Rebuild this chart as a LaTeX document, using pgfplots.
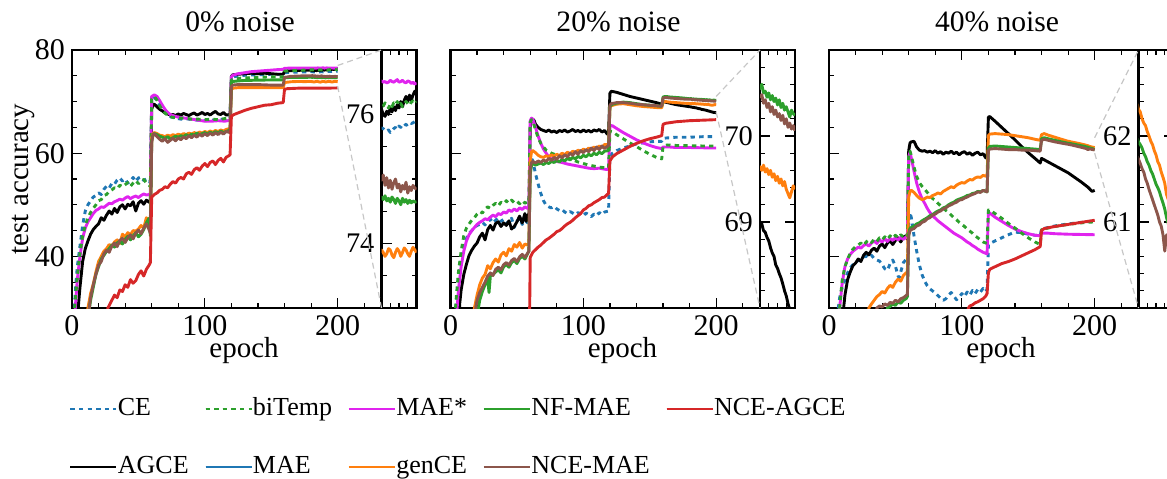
\documentclass[border=0pt]{standalone}
\usepackage{fontspec}
\setmainfont{Liberation Serif}
\usepackage{pgfplots}
\usepackage{pgfplotstable}
\pgfplotsset{compat=1.18}

\definecolor{cBlue}{HTML}{1F77B4}
\definecolor{cGreen}{HTML}{2CA02C}
\definecolor{cMag}{HTML}{E024EE}
\definecolor{cRed}{HTML}{D62728}
\definecolor{cOrange}{HTML}{FF7F0E}
\definecolor{cBrown}{HTML}{8C564B}

\tikzset{
 sCE/.style={color=cBlue, line width=1.45pt, dash pattern=on 2.2pt off 2.1pt},
 sBT/.style={color=cGreen, line width=1.45pt, dash pattern=on 2.2pt off 2.1pt},
 sMS/.style={color=cMag, line width=1.45pt},
 sNF/.style={color=cGreen, line width=1.45pt},
 sNA/.style={color=cRed, line width=1.45pt},
 sAG/.style={color=black, line width=1.45pt},
 sMA/.style={color=cBlue, line width=1.45pt},
 sGC/.style={color=cOrange, line width=1.45pt},
 sNM/.style={color=cBrown, line width=1.45pt},
 conn/.style={draw=black!22, line width=0.6pt, dash pattern=on 3pt off 2pt},
}

% ---------------- panel A (0% noise) ----------------
\pgfplotstableread[row sep=\\]{x y\\
0 10\\2 31\\3 35\\4 38\\6 42\\8 46\\10 48.8\\12 50\\14 50.8\\16 51.5\\18 51.8\\20 52.3\\22 52\\24 53\\26 53.6\\28 53.2\\30 54.2\\32 54\\34 54.8\\36 55.2\\38 54.6\\40 55\\42 54.2\\44 54.6\\46 55.3\\48 54.5\\50 55.2\\52 55.4\\54 54.7\\56 55\\58 54.4\\59 54.6\\
60 70.6\\62 70.8\\64 70.2\\66 69.3\\68 68.5\\70 67.9\\72 67.4\\75 67\\78 66.8\\82 66.6\\86 66.7\\90 66.5\\95 66.4\\100 66.3\\105 66.4\\110 66.5\\115 66.6\\119 66.9\\
120 74.4\\122 74.8\\125 75\\130 75.1\\140 75.2\\150 75.3\\159 75.3\\160 75.6\\165 75.7\\170 75.7\\175 75.75\\
180 75.79\\181 75.78\\182 75.75\\183 75.74\\184 75.76\\185 75.72\\186 75.75\\187 75.78\\188 75.8\\189 75.77\\190 75.82\\191 75.8\\192 75.84\\193 75.86\\194 75.83\\195 75.85\\196 75.88\\197 75.86\\198 75.87\\199 75.89\\200 75.87\\}\ceA

\pgfplotstableread[row sep=\\]{x y\\
0 10\\2 30\\3 33\\4 36\\6 40.5\\8 44\\10 46\\12 47.5\\14 48.5\\16 49.3\\18 50\\20 50.8\\22 51\\24 51.8\\26 52\\28 52.6\\30 52.9\\32 53.3\\34 53.1\\36 53.8\\38 53.5\\40 53.9\\42 54.3\\44 53.6\\46 54.2\\48 54.7\\50 54.1\\52 54.5\\54 54.9\\56 54.2\\58 53.8\\59 53.5\\
60 70.5\\62 71\\64 70.3\\66 69.2\\68 68.4\\70 67.8\\72 67.3\\75 67\\80 66.8\\85 66.8\\90 66.6\\95 66.6\\100 66.5\\105 66.6\\110 66.5\\115 66.7\\119 66.9\\
120 74.2\\122 74.4\\125 74.5\\130 74.6\\140 74.7\\150 74.8\\159 74.8\\160 75.9\\165 76\\170 76.05\\175 76.1\\
180 76.15\\181 76.13\\182 76.18\\183 76.14\\184 76.1\\185 76.16\\186 76.12\\187 76.18\\188 76.15\\189 76.2\\190 76.14\\191 76.17\\192 76.12\\193 76.16\\194 76.2\\195 76.17\\196 76.14\\197 76.19\\198 76.21\\199 76.17\\200 76.2\\}\btA

\pgfplotstableread[row sep=\\]{x y\\
0 10\\2 28\\3 32\\4 35.5\\6 40\\8 43.5\\10 45.5\\12 46.7\\14 47.5\\16 48.3\\18 48.9\\20 49.2\\22 49.6\\24 49.5\\26 49.9\\28 50.3\\30 50.2\\32 50.6\\34 50.8\\36 51.1\\38 50.9\\40 51.3\\42 51.6\\44 51.2\\46 51.5\\48 51.7\\50 51.4\\52 51.8\\54 52.1\\56 51.9\\58 52\\59 52.2\\
60 71\\62 71.3\\64 71\\66 70.2\\68 69.3\\70 68.5\\72 67.9\\74 67.5\\77 67.2\\80 67\\85 66.8\\90 66.6\\95 66.4\\100 66.2\\105 66.2\\110 66.3\\115 66.2\\119 66.4\\
120 74.8\\121 75.1\\125 75.4\\130 75.6\\135 75.8\\140 75.9\\145 76\\150 76.1\\155 76.2\\159 76.25\\160 76.45\\165 76.5\\170 76.5\\175 76.5\\
180 76.52\\181 76.5\\182 76.51\\183 76.49\\184 76.5\\185 76.53\\186 76.51\\187 76.5\\188 76.52\\189 76.54\\190 76.5\\191 76.51\\192 76.53\\193 76.5\\194 76.49\\195 76.52\\196 76.51\\197 76.48\\198 76.5\\199 76.47\\200 76.49\\}\msA

\pgfplotstableread[row sep=\\]{x y\\
0 10\\3 22\\4 27\\5 31\\6 34\\8 39\\10 41.5\\12 43\\14 44.3\\16 45.2\\18 45.8\\20 46.3\\22 47.5\\24 47\\26 48\\28 48.8\\30 48.2\\32 49.3\\34 48.5\\36 49.6\\38 50\\40 49.2\\42 50.1\\44 49.8\\46 50.6\\48 48.8\\50 50.3\\52 50.8\\54 50.1\\56 50.9\\58 50.5\\59 51\\
60 68.5\\61 69.4\\62 69.5\\64 69\\66 68.5\\68 68.2\\70 67.8\\72 67.6\\74 67.4\\76 67.5\\78 67.3\\80 67.6\\82 67.4\\84 67.7\\86 67.5\\88 67.3\\90 67.6\\92 67.8\\94 67.4\\96 67.6\\98 67.9\\100 67.5\\102 67.7\\104 67.4\\106 67.8\\108 68.1\\110 67.6\\112 67.5\\114 67.9\\116 67.4\\119 67.5\\
120 74.9\\121 75.2\\125 75.3\\130 75.4\\135 75.5\\140 75.4\\145 75.5\\150 75.4\\155 75.3\\159 75.3\\160 75.9\\165 76\\170 76.05\\175 76.1\\
180 76.08\\181 76\\182 75.97\\183 76.05\\184 76\\185 76.1\\186 76.04\\187 76.12\\188 76.06\\189 76.15\\190 76.1\\191 76.2\\192 76.12\\193 76.22\\194 76.28\\195 76.2\\196 76.3\\197 76.22\\198 76.3\\199 76.36\\200 76.34\\}\agA

\pgfplotstableread[row sep=\\]{x y\\
0 10\\10 22\\12 28\\14 31.5\\16 34\\18 36.5\\20 38\\22 39.5\\24 40.2\\26 41\\28 41.5\\30 42.2\\32 41.8\\34 42.6\\36 43\\38 42.4\\40 43.3\\42 43.9\\44 43.2\\46 44\\48 44.6\\50 43.8\\52 44.3\\54 45.2\\56 46.5\\58 47.4\\59 44\\
60 62.5\\61 63.6\\62 63.8\\64 63.6\\66 63.3\\68 63.1\\70 62.9\\72 63.2\\74 62.7\\76 63\\78 63.3\\80 63.1\\82 63.4\\84 63.2\\86 63.6\\88 63.3\\90 63.7\\92 63.5\\94 63.9\\96 63.6\\98 63.8\\100 64\\102 63.7\\104 64.1\\106 63.8\\108 64.2\\110 63.9\\112 64.3\\114 64\\116 64.2\\119 64.5\\
120 73.6\\121 73.9\\125 74\\130 74.1\\140 74.15\\150 74.2\\159 74.2\\160 74.6\\165 74.7\\170 74.7\\175 74.7\\
180 74.72\\181 74.68\\182 74.74\\183 74.66\\184 74.7\\185 74.64\\186 74.72\\187 74.68\\188 74.62\\189 74.7\\190 74.66\\191 74.6\\192 74.7\\193 74.64\\194 74.68\\195 74.62\\196 74.67\\197 74.63\\198 74.66\\199 74.64\\200 74.65\\}\nfA

\pgfplotstableread[row sep=\\]{x y\\
0 10\\10 20\\12 27\\13 30\\14 32\\16 34.5\\18 36.5\\20 38.3\\22 39\\24 40.5\\26 41.2\\28 40.8\\30 42\\32 42.6\\34 41.9\\36 43.1\\38 43.5\\40 42.7\\42 43.6\\44 44.2\\46 43.4\\48 44.5\\50 45.1\\52 44.4\\54 45.5\\56 46.3\\58 45.2\\59 44.5\\
60 62\\61 63.6\\62 63.8\\64 63.2\\66 62.7\\68 62.3\\70 62.8\\72 62.1\\74 62.5\\76 62.9\\78 62.4\\80 63\\82 62.6\\84 63.2\\86 62.8\\88 63.4\\90 63\\92 63.5\\94 63.1\\96 63.7\\98 63.3\\100 63.8\\102 63.4\\104 63.9\\106 63.5\\108 64\\110 63.6\\112 64.1\\114 63.7\\116 64.2\\119 64\\
120 72.9\\121 73.2\\125 73.3\\130 73.3\\140 73.3\\150 73.2\\159 73.2\\160 74.7\\165 74.9\\170 74.95\\175 75\\
180 74.98\\181 75.06\\182 74.9\\183 75.02\\184 74.86\\185 74.98\\186 74.84\\187 74.94\\188 75\\189 74.86\\190 74.92\\191 74.8\\192 74.9\\193 74.84\\194 74.95\\195 74.78\\196 74.88\\197 74.82\\198 74.9\\199 74.86\\200 74.84\\}\nmA

\pgfplotstableread[row sep=\\]{x y\\
0 10\\10 22\\12 30\\14 32.8\\16 34.6\\18 37\\20 39\\22 40\\24 41\\26 41.5\\28 42.3\\30 42\\32 42.8\\34 43.2\\36 42.5\\38 44.3\\40 43.8\\42 44.6\\44 44.2\\46 45\\48 44.9\\50 45.3\\52 46\\54 45.5\\56 47.5\\58 46.5\\59 47\\
60 63\\61 63.8\\62 64\\64 63.8\\66 63.5\\68 63.4\\70 63.2\\72 63.5\\74 63.3\\76 63.6\\78 63.4\\80 63.7\\82 63.5\\84 63.8\\86 63.6\\88 63.9\\90 63.7\\92 64\\94 63.8\\96 64.1\\98 63.9\\100 64.2\\102 64\\104 64.3\\106 64.1\\108 64.4\\110 64.2\\112 64.5\\114 64.3\\116 64.6\\119 64.8\\
120 72.3\\121 72.6\\125 72.7\\130 72.7\\140 72.7\\150 72.7\\159 72.7\\160 73.7\\165 73.85\\170 73.9\\175 73.88\\
180 73.9\\181 73.86\\182 73.8\\183 73.84\\184 73.92\\185 73.9\\186 73.82\\187 73.78\\188 73.86\\189 73.92\\190 73.88\\191 73.8\\192 73.86\\193 73.93\\194 73.9\\195 73.84\\196 73.8\\197 73.88\\198 73.94\\199 73.9\\200 73.86\\}\gcA

\pgfplotstableread[row sep=\\]{x y\\
0 10\\24 20\\27 30\\30 31.5\\32 32.5\\34 32\\36 33.5\\38 33.2\\40 34.5\\42 34\\44 35.5\\46 34.8\\48 35.3\\50 36.5\\52 37.2\\54 36.2\\56 37.5\\58 38.3\\59 38.8\\
60 51.5\\62 52\\64 52.3\\66 52.8\\68 53\\70 53.5\\72 53.3\\74 54\\76 54.5\\78 54.2\\80 55\\82 55.3\\84 55\\86 56\\88 56.3\\90 55.9\\92 56.8\\94 57.2\\96 56.7\\98 57.5\\100 58\\102 57.4\\104 58.2\\106 58.5\\108 57.8\\110 58.6\\112 59\\114 58.3\\116 59.2\\118 59.5\\119 59.7\\
120 67.2\\122 67.5\\125 67.8\\130 68.3\\135 68.7\\140 69\\145 69.3\\150 69.4\\155 69.7\\159 69.8\\160 72.4\\162 72.5\\170 72.6\\180 72.6\\190 72.6\\200 72.65\\}\naA

% ---------------- panel B (20% noise) ----------------
\pgfplotstableread[row sep=\\]{x y\\
0 10\\3 25\\4 30\\5 33\\6 36\\7 38.5\\8 40\\10 42\\12 43.5\\14 44.5\\16 45\\18 45.6\\20 46\\22 46.2\\24 46.6\\26 46.1\\28 46.8\\30 47.2\\32 46.5\\34 47\\36 47.5\\38 46.8\\40 47.2\\42 46.3\\44 46.9\\46 47.4\\48 45.6\\50 46.8\\52 47.5\\54 46.2\\56 47\\58 46.5\\59 46.8\\
60 58\\61 59\\62 58.5\\64 56\\66 54\\68 52.2\\70 50.8\\72 49.9\\74 49.6\\76 49.4\\78 49.7\\80 49.2\\82 48.9\\84 49.1\\86 48.6\\88 48.3\\90 48.7\\92 48.4\\94 48.1\\96 48.5\\98 48.2\\100 47.9\\102 48.4\\104 48.1\\106 47.7\\108 48.2\\110 47.9\\112 48.5\\114 48.1\\116 48.6\\119 48.8\\
120 59.5\\122 60\\125 60.5\\130 61\\135 61.4\\140 61.8\\145 62\\150 62.2\\155 62.3\\159 62.3\\160 62.9\\165 63\\170 63.1\\180 63.1\\190 63.2\\200 63.2\\}\ceB

\pgfplotstableread[row sep=\\]{x y\\
0 10\\3 25\\4 31\\5 34\\6 37\\8 41\\10 44\\12 45.5\\14 46.3\\16 47\\18 47.5\\20 48.2\\22 48.7\\24 48.4\\26 49.2\\28 49.6\\30 49.3\\32 49.9\\34 50.3\\36 49.8\\38 50.5\\40 50.2\\42 50.8\\44 50.3\\46 50.9\\48 50.4\\50 50.7\\52 50.2\\54 50.8\\56 50.3\\58 50.6\\59 50.5\\
60 66\\61 66.5\\62 66.3\\64 64.5\\66 63\\68 61.9\\70 61.2\\72 60.6\\74 60.3\\76 60\\78 59.8\\80 59.6\\84 59.4\\88 59.1\\92 58.7\\96 58.3\\100 58\\104 57.7\\108 57.5\\112 57.3\\116 57.2\\119 57.2\\
120 64.3\\122 64.2\\125 63.6\\130 62.8\\135 62\\140 61.3\\145 60.5\\150 59.8\\155 59.2\\159 58.9\\160 61.3\\163 61.6\\170 61.5\\180 61.45\\190 61.4\\200 61.4\\}\btB

\pgfplotstableread[row sep=\\]{x y\\
0 10\\4 25\\5 30\\6 33.5\\8 38\\10 41\\12 43\\14 44.2\\16 45\\18 45.6\\20 46.2\\22 46.6\\24 46.9\\26 47.3\\28 47.1\\30 47.6\\32 48\\34 47.7\\36 48.3\\38 48.1\\40 48.6\\42 48.4\\44 49\\46 48.7\\48 49.2\\50 48.8\\52 49.4\\54 49.1\\56 49.6\\58 49.3\\59 49.5\\
60 66.3\\61 66.8\\62 66.6\\64 65\\66 63.3\\68 61.9\\70 60.8\\72 60\\74 59.3\\76 58.9\\78 58.6\\80 58.4\\84 58.2\\88 57.9\\92 57.7\\96 57.5\\100 57.3\\104 57.1\\108 57\\112 57.1\\116 56.9\\119 56.8\\
120 65.4\\122 65.3\\125 64.8\\130 64\\135 63.3\\140 62.6\\145 62\\150 61.5\\155 61.1\\159 60.9\\160 61.2\\165 61.2\\170 61.1\\180 61.1\\190 61.05\\200 61\\}\msB

\pgfplotstableread[row sep=\\]{x y\\
0 10\\5 20\\6 27\\7 31\\8 33.5\\10 36.5\\12 38.5\\14 40.2\\16 41.2\\18 42\\20 42.6\\22 43.8\\24 44.5\\26 43.2\\28 45.2\\30 46\\32 45.1\\34 46.4\\36 46.7\\38 45.8\\40 46.5\\42 46\\44 46.9\\46 45.3\\48 45.8\\50 46.7\\52 47.8\\54 46.5\\56 48.3\\57 46.8\\58 48\\59 47.5\\
60 65\\61 66.4\\62 66.6\\63 66.3\\64 65.6\\66 65\\68 64.6\\70 64.4\\72 64.2\\74 64.5\\76 64.1\\78 64.3\\80 64\\82 64.4\\84 64.2\\86 64.5\\88 64.1\\90 64.3\\92 64.6\\94 64.2\\96 64.4\\98 64.1\\100 64.5\\102 64.2\\104 64.4\\106 64.1\\108 64.5\\110 64.3\\112 64.6\\114 64.1\\116 64.4\\118 63.7\\119 64\\
120 71.6\\121 72\\125 71.8\\130 71.4\\135 71\\140 70.7\\145 70.4\\150 70.1\\155 69.8\\159 69.5\\160 70\\165 69.7\\170 69.4\\175 69.2\\
180 69\\181 68.98\\182 68.9\\183 68.88\\184 68.82\\185 68.78\\186 68.7\\187 68.64\\188 68.6\\189 68.5\\190 68.46\\191 68.4\\192 68.35\\193 68.28\\194 68.2\\195 68.14\\196 68.05\\197 67.98\\198 67.92\\199 67.88\\200 67.84\\}\agB

\pgfplotstableread[row sep=\\]{x y\\
0 10\\18 20\\20 27\\21 30\\22 31.5\\24 33.2\\26 34.5\\28 35.8\\29 33\\30 36.2\\32 36.5\\34 37\\36 37.4\\38 36.8\\40 38\\42 38.4\\44 37.9\\46 38.8\\48 39.2\\50 38.6\\52 39.6\\54 40\\56 39.5\\58 40.5\\59 41\\
60 56\\61 57.6\\62 58\\64 57.7\\66 57.9\\68 58.1\\70 57.8\\72 58.2\\74 58\\76 58.4\\78 58.2\\80 58.6\\82 58.3\\84 58.8\\86 58.5\\88 59\\90 58.7\\92 59.2\\94 58.9\\96 59.4\\98 59.1\\100 59.6\\102 59.3\\104 59.8\\106 59.5\\108 60\\110 59.7\\112 60.2\\114 59.9\\116 60.4\\119 60.5\\
120 69\\121 69.4\\125 69.7\\130 69.9\\135 69.8\\140 69.6\\145 69.4\\150 69.3\\155 69.2\\159 69.1\\160 70.9\\162 71\\165 70.9\\170 70.8\\175 70.7\\
180 70.55\\181 70.6\\182 70.5\\183 70.52\\184 70.45\\185 70.5\\186 70.42\\187 70.47\\188 70.4\\189 70.44\\190 70.36\\191 70.42\\192 70.33\\193 70.38\\194 70.3\\195 70.34\\196 70.28\\197 70.22\\198 70.3\\199 70.26\\200 70.24\\}\nfB

\pgfplotstableread[row sep=\\]{x y\\
0 10\\16 20\\18 28\\19 30\\20 31.5\\22 33\\24 34\\26 35\\28 36.2\\30 36.8\\32 36.3\\34 37.5\\36 37.9\\38 37.4\\40 38.4\\42 38.8\\44 38.3\\46 39.2\\48 39.6\\50 39\\52 39.9\\54 40.4\\56 39.8\\58 40.6\\59 41\\
60 57\\61 58.2\\62 58.4\\64 58.1\\66 58.5\\68 58.2\\70 58.7\\72 58.4\\74 59\\76 58.6\\78 59.2\\80 58.8\\82 59.5\\84 59.1\\86 59.7\\88 59.3\\90 60\\92 59.6\\94 60.3\\96 59.8\\98 60.5\\100 60.1\\102 60.7\\104 60.3\\106 61\\108 60.5\\110 61.2\\112 60.7\\114 61.4\\116 60.9\\119 61.5\\
120 69.3\\121 69.6\\125 69.8\\130 69.8\\135 69.7\\140 69.5\\145 69.4\\150 69.3\\155 69.2\\159 69.1\\160 70.7\\162 70.8\\165 70.7\\170 70.6\\175 70.5\\
180 70.45\\181 70.48\\182 70.38\\183 70.42\\184 70.33\\185 70.38\\186 70.28\\187 70.34\\188 70.25\\189 70.3\\190 70.22\\191 70.26\\192 70.18\\193 70.24\\194 70.14\\195 70.2\\196 70.1\\197 70.15\\198 70.08\\199 70.12\\200 70.06\\}\nmB

\pgfplotstableread[row sep=\\]{x y\\
0 10\\16 25\\18 30\\20 32.5\\22 34.5\\24 35.8\\26 36.5\\28 38.2\\30 37.6\\32 38.8\\34 39.5\\36 38.9\\38 40.3\\40 40.8\\42 40.1\\44 41.5\\46 41\\48 42.3\\50 41.8\\52 42.7\\54 41.6\\56 42.4\\58 42.2\\59 42.5\\
60 58.5\\61 60.3\\62 60.5\\64 60.1\\66 59.6\\68 59.3\\70 59.2\\72 59.5\\74 59.3\\76 59.7\\78 59.4\\80 59.8\\82 59.5\\84 60\\86 59.7\\88 60.2\\90 59.9\\92 60.4\\94 60.1\\96 60.6\\98 60.3\\100 60.8\\102 60.5\\104 61\\106 60.7\\108 61.2\\110 60.9\\112 61.4\\114 61.1\\116 61.7\\119 61.6\\
120 68.9\\121 69.2\\125 69.5\\130 69.6\\135 69.4\\140 69.2\\145 69.05\\150 68.95\\155 68.85\\159 68.8\\160 69.9\\162 70\\165 69.9\\170 69.8\\175 69.7\\
180 69.64\\181 69.6\\182 69.66\\183 69.58\\184 69.62\\185 69.55\\186 69.6\\187 69.52\\188 69.56\\189 69.48\\190 69.53\\191 69.45\\192 69.5\\193 69.42\\194 69.47\\195 69.38\\196 69.33\\197 69.28\\198 69.35\\199 69.42\\200 69.38\\}\gcB

\pgfplotstableread[row sep=\\]{x y\\
0 10\\59 15\\60 39.8\\62 40.8\\64 41.3\\66 41.8\\68 42.2\\70 42.7\\72 43.2\\74 43.5\\76 43.9\\78 44.3\\80 44.8\\82 45\\84 45.4\\86 45.9\\88 46.3\\90 46.6\\92 47\\94 47.5\\96 47.9\\98 48.3\\100 49\\102 49.3\\104 49.8\\106 50\\108 50.4\\110 50.7\\112 51\\114 51.4\\116 51.5\\118 52\\119 52.2\\
120 58.5\\122 59.3\\125 59.9\\130 60.6\\135 61.3\\140 61.9\\145 62.4\\150 62.8\\155 63.1\\159 63.4\\160 65.6\\162 65.8\\170 66.1\\180 66.3\\190 66.4\\200 66.5\\}\naB

% ---------------- panel C (40% noise) ----------------
\pgfplotstableread[row sep=\\]{x y\\
0 10\\6 25\\7 30\\8 32\\10 34\\12 35.5\\14 36.8\\16 37.8\\18 38.4\\20 38.9\\22 39.2\\24 39.4\\26 39.8\\28 40.1\\30 39.7\\32 40.2\\34 39.6\\36 39.3\\38 39.1\\40 38.4\\42 37.6\\44 37.3\\46 38.6\\48 39.3\\50 38.1\\52 36.2\\53 35.9\\54 37\\56 38.8\\58 39.4\\59 38.9\\
60 46.5\\61 48.5\\62 47.5\\64 44\\66 41\\68 38.4\\70 36.5\\72 35.2\\74 34.3\\76 33.7\\78 33.3\\80 32.9\\82 32.4\\84 31.9\\86 31.5\\88 31.8\\90 32.5\\92 33\\94 32.3\\96 31.6\\98 32.1\\100 32.8\\102 32.2\\104 33.1\\106 32.5\\108 33.4\\110 32.8\\112 33.6\\114 33.1\\116 33.8\\118 33.2\\119 33.6\\
120 42.3\\122 42.6\\125 43\\130 43.6\\135 44.2\\140 44.7\\145 44.6\\150 44.3\\155 44.1\\159 44\\160 45.3\\165 45.6\\170 45.9\\180 46.3\\190 46.6\\200 46.9\\}\ceC

\pgfplotstableread[row sep=\\]{x y\\
0 10\\7 25\\8 30\\9 33\\10 35.5\\12 38\\14 39.5\\16 40.6\\18 41.4\\20 41.9\\22 42.2\\24 42.6\\26 42.1\\28 42.8\\30 43.2\\32 42.7\\34 43.3\\36 42.9\\38 43.6\\40 43.2\\42 43.8\\44 43.3\\46 44\\48 43.5\\50 44.1\\52 43.6\\54 44.2\\56 43.8\\58 44.3\\59 44\\
60 59.5\\61 60.4\\62 59.5\\64 57.3\\66 55.5\\68 54.3\\70 53.6\\72 53\\74 52.4\\76 51.8\\78 51.2\\80 50.9\\82 50.3\\84 49.8\\86 49.4\\88 48.9\\90 48.5\\92 48\\94 47.5\\96 47.1\\98 46.6\\100 46.2\\102 45.8\\104 45.3\\106 44.9\\108 44.5\\110 44\\112 43.6\\114 43.2\\116 42.8\\119 42.5\\
120 49\\122 48.8\\125 48.3\\130 47.4\\135 46.4\\140 45.5\\145 44.5\\150 43.6\\155 42.8\\159 42.3\\160 45.2\\165 45.5\\170 45.8\\180 46.2\\190 46.5\\200 46.7\\}\btC

\pgfplotstableread[row sep=\\]{x y\\
0 10\\7 25\\8 30\\9 32.5\\10 35\\12 38\\14 39.5\\16 40.4\\18 41\\20 41.4\\22 41.8\\24 41.6\\26 42.1\\28 42.4\\30 42\\32 42.6\\34 43\\36 42.5\\38 43.2\\40 42.8\\42 43.4\\44 42.9\\46 43.5\\48 43.1\\50 43.6\\52 43.2\\54 43.7\\56 43.3\\58 43.8\\59 43.5\\
60 59.3\\61 60.2\\62 59\\64 56.5\\66 54.2\\68 52.5\\70 51.2\\72 50.3\\74 49.3\\76 48.5\\78 47.9\\80 47.4\\82 46.9\\84 46.5\\86 46.1\\88 45.7\\90 45.3\\92 44.9\\94 44.5\\96 44.2\\98 43.9\\100 43.6\\102 43.2\\104 42.8\\106 42.5\\108 42.1\\110 41.8\\112 41.4\\114 41.1\\116 40.8\\119 40.5\\
120 48.6\\122 48.2\\125 47.6\\130 46.8\\135 46\\140 45.3\\145 44.8\\150 44.4\\155 44.1\\159 44\\160 44.5\\165 44.5\\170 44.4\\180 44.3\\190 44.25\\200 44.2\\}\msC

\pgfplotstableread[row sep=\\]{x y\\
0 10\\10 25\\11 30\\12 32.5\\14 35.5\\16 37\\18 38.2\\20 38.7\\22 39.5\\24 39\\26 40.2\\28 40.8\\30 40.3\\32 41.2\\34 41.6\\36 41\\38 42\\40 42.4\\42 41.7\\44 42.6\\46 43\\48 42.3\\50 43.1\\52 43.6\\54 42.8\\56 43.7\\58 44\\59 43.3\\
60 60.5\\61 62\\62 62.2\\64 62.3\\66 61.2\\68 60.6\\70 60.4\\72 60.5\\74 60.2\\76 60.4\\78 60.1\\80 60.5\\82 60\\84 60.3\\86 59.8\\88 60.2\\90 60\\92 60.4\\94 59.9\\96 60.2\\98 59.7\\100 60.1\\102 60.3\\104 59.8\\106 60.1\\108 59.6\\110 60\\112 60.2\\114 59.7\\116 59.9\\118 59.1\\119 59.3\\
120 67\\121 67.1\\125 66.2\\130 65\\135 63.8\\140 62.6\\145 61.3\\150 60.1\\155 59\\159 58.1\\160 59\\165 58.3\\170 57.6\\175 56.9\\180 56.2\\185 55.3\\190 54.4\\195 53.4\\198 52.6\\200 52.8\\}\agC

\pgfplotstableread[row sep=\\]{x y\\
0 10\\40 25\\44 30\\46 30.3\\48 30.8\\50 30.5\\52 31.2\\54 30.9\\56 31.5\\58 31.8\\59 32.2\\
60 44.5\\61 45.5\\62 45.6\\64 45.9\\66 46.3\\68 46.5\\70 46.9\\72 47.2\\74 47.5\\76 47.9\\78 48.1\\80 48.5\\82 48.8\\84 49\\86 49.4\\88 49.6\\90 50\\92 50.3\\94 50.5\\96 50.9\\98 51.1\\100 51.3\\102 51.5\\104 51.8\\106 51.9\\108 52.2\\110 52.3\\112 52.6\\114 52.5\\116 52.8\\119 52.5\\
120 61\\121 61.3\\125 61.4\\130 61.3\\135 61.2\\140 61.1\\145 61\\150 60.9\\155 60.8\\159 60.7\\160 62.8\\162 63\\165 62.8\\170 62.5\\175 62.2\\
180 61.93\\181 61.9\\182 61.86\\183 61.8\\184 61.76\\185 61.7\\186 61.66\\187 61.6\\188 61.56\\189 61.5\\190 61.44\\191 61.4\\192 61.35\\193 61.28\\194 61.22\\195 61.15\\196 61.05\\197 60.98\\198 60.9\\199 60.82\\200 60.75\\}\nfC

\pgfplotstableread[row sep=\\]{x y\\
0 10\\34 25\\36 30\\38 30.4\\40 30.2\\42 30.8\\44 30.5\\46 31.1\\48 30.9\\50 31.5\\52 31.2\\54 31.8\\56 32\\58 32.4\\59 32.6\\
60 44\\61 45\\62 45.2\\64 45.4\\66 45.9\\68 46.1\\70 46.6\\72 46.8\\74 47.3\\76 47.5\\78 48\\80 48.2\\82 48.6\\84 48.8\\86 49.2\\88 49.4\\90 49.8\\92 50\\94 50.3\\96 50.5\\98 50.9\\100 51\\102 51.3\\104 51.5\\106 51.8\\108 52\\110 52.2\\112 52.5\\114 52.4\\116 52.8\\119 52.5\\
120 60.5\\121 60.8\\125 60.9\\130 60.8\\135 60.7\\140 60.7\\145 60.6\\150 60.6\\155 60.5\\159 60.4\\160 62.5\\162 62.7\\165 62.5\\170 62.2\\175 61.95\\
180 61.73\\181 61.68\\182 61.62\\183 61.58\\184 61.5\\185 61.45\\186 61.38\\187 61.32\\188 61.26\\189 61.2\\190 61.14\\191 61.08\\192 61\\193 60.95\\194 60.85\\195 60.66\\196 60.85\\197 60.8\\198 60.72\\199 60.68\\200 60.62\\}\nmC

\pgfplotstableread[row sep=\\]{x y\\
0 10\\28 25\\30 30\\32 30.8\\34 31.5\\36 32.2\\38 32.6\\40 33.2\\42 32.9\\44 33.8\\46 34.4\\48 34\\50 35\\52 35.6\\54 35.2\\56 36.3\\58 36.8\\59 37\\
60 51.5\\61 52.6\\62 52.8\\64 52.4\\66 51.8\\68 51.3\\70 51\\72 51.2\\74 51.5\\76 51.4\\78 51.8\\80 52\\82 52.3\\84 52.1\\86 52.6\\88 52.9\\90 53.2\\92 53.5\\94 53.3\\96 53.8\\98 54.1\\100 54.3\\102 54.2\\104 54.6\\106 54.9\\108 54.8\\110 55.2\\112 55.4\\114 55.3\\116 55.7\\119 55.5\\
120 63.4\\121 63.7\\125 63.8\\130 63.7\\135 63.6\\140 63.4\\145 63.2\\150 63\\155 62.7\\159 62.5\\160 63.6\\162 63.8\\165 63.5\\170 63.1\\175 62.7\\
180 62.31\\181 62.28\\182 62.2\\183 62.15\\184 62.12\\185 62.05\\186 62\\187 61.94\\188 61.9\\189 61.83\\190 61.78\\191 61.7\\192 61.66\\193 61.58\\194 61.52\\195 61.45\\196 61.32\\197 61.26\\198 61.2\\199 61.15\\200 61.1\\}\gcC

\pgfplotstableread[row sep=\\]{x y\\
0 10\\100 20\\104 29\\105 30\\106 30.4\\108 30.6\\110 31\\112 31.2\\114 31.5\\116 31.8\\118 32.3\\119 32.8\\
120 36.8\\121 37.5\\125 38\\130 38.6\\135 39\\140 39.5\\145 40.1\\150 40.7\\155 41.3\\159 41.9\\160 45\\162 45.4\\170 45.8\\180 46.2\\190 46.6\\200 47\\}\naC

\newcommand\plotA{%
 \addplot[sCE,forget plot] table {\ceA};
 \addplot[sAG,forget plot] table {\agA};
 \addplot[sMS,forget plot] table {\msA};
 \addplot[sBT,forget plot] table {\btA};
 \addplot[sGC,forget plot] table {\gcA};
 \addplot[sNF,forget plot] table {\nfA};
 \addplot[sNM,forget plot] table {\nmA};
 \addplot[sNA,forget plot] table {\naA};
}
\newcommand\plotB{%
 \addplot[sCE,forget plot] table {\ceB};
 \addplot[sAG,forget plot] table {\agB};
 \addplot[sMS,forget plot] table {\msB};
 \addplot[sBT,forget plot] table {\btB};
 \addplot[sGC,forget plot] table {\gcB};
 \addplot[sNF,forget plot] table {\nfB};
 \addplot[sNM,forget plot] table {\nmB};
 \addplot[sNA,forget plot] table {\naB};
}
\newcommand\plotC{%
 \addplot[sCE,forget plot] table {\ceC};
 \addplot[sAG,forget plot] table {\agC};
 \addplot[sMS,forget plot] table {\msC};
 \addplot[sBT,forget plot] table {\btC};
 \addplot[sGC,forget plot] table {\gcC};
 \addplot[sNF,forget plot] table {\nfC};
 \addplot[sNM,forget plot] table {\nmC};
 \addplot[sNA,forget plot] table {\naC};
}

\pgfplotsset{
 common/.style={
  scale only axis, anchor=south west, height=129pt,
  ymin=30, ymax=80,
  tick align=inside,
  major tick length=5pt, minor tick length=2.5pt,
  tick style={black, line width=0.6pt},
  axis line style={line width=1.3pt},
  /pgf/number format/assume math mode=true,
  every axis plot/.append style={line join=round},
 },
 mainax/.style={
  common, width=154.75pt,
  xmin=0, xmax=233,
  xtick={0,100,200}, minor xtick={20,40,60,80,120,140,160,180,220},
  ytick={40,60,80}, minor ytick={35,45,50,55,65,70,75},
  xtick pos=both, ytick pos=left,
  tick label style={font=\fontsize{15}{17}\selectfont},
  xlabel={epoch},
  xlabel style={at={(axis description cs:0.556,-0.193)}, anchor=base, font=\fontsize{14.5}{16}\selectfont},
  every axis title/.style={at={(axis description cs:0.543,1.07)}, anchor=base, font=\fontsize{14.8}{17}\selectfont},
 },
 insax/.style={
  common, width=17.5pt,
  xmin=180, xmax=200,
  xtick={180,200}, xticklabels={}, minor xtick={185,190,195},
  xtick pos=both, ytick pos=both, yticklabel pos=left,
  tick label style={font=\fontsize{14.2}{16}\selectfont},
 },
}

\begin{document}
\begin{tikzpicture}
% ===== panel 1 =====
\begin{axis}[mainax, at={(36pt,85pt)}, title={0\% noise},
  ylabel={test accuracy},
  ylabel style={at={(axis description cs:-0.1405,0.5)}, anchor=base, font=\fontsize{14.5}{16}\selectfont},
  legend columns=5,
  legend cell align=left,
  legend image code/.code={\draw[#1] (0pt,0pt) -- (17pt,0pt); \path (0pt,0pt) -- (23pt,0pt);},
  legend style={draw=none, fill=none, inner sep=0pt, outer sep=0pt,
    at={(axis description cs:-0.0097,-0.345)}, anchor=north west,
    font=\fontsize{13}{15}\selectfont,
    nodes={inner sep=0pt, text height=9pt, text depth=3pt},
    column sep=0pt, row sep=17pt,
    /tikz/every even column/.append style={column sep=7.7pt}},
  ]
 \addlegendimage{sCE}\addlegendentry{CE}
 \addlegendimage{sBT}\addlegendentry{biTemp}
 \addlegendimage{sMS}\addlegendentry{MAE*}
 \addlegendimage{sNF}\addlegendentry{NF-MAE}
 \addlegendimage{sNA}\addlegendentry{NCE-AGCE}
 \addlegendimage{sAG}\addlegendentry{AGCE}
 \addlegendimage{sMA}\addlegendentry{MAE}
 \addlegendimage{sGC}\addlegendentry{genCE}
 \addlegendimage{sNM}\addlegendentry{NCE-MAE}
 \plotA
 \coordinate (t1) at (axis cs:200,77);
 \coordinate (b1) at (axis cs:200,73);
\end{axis}
\begin{axis}[insax, name=i1, at={(190.75pt,85pt)}, ymin=73, ymax=77,
  ytick={74,76}, minor ytick={73.5,74.5,75,75.5,76.5}]
 \plotA
\end{axis}
\draw[conn] (t1) -- (i1.north west);
\draw[conn] (b1) -- (i1.south west);

% ===== panel 2 =====
\begin{axis}[mainax, at={(225.25pt,85pt)}, title={20\% noise}, yticklabels={}]
 \plotB
 \coordinate (t2) at (axis cs:200,71);
 \coordinate (b2) at (axis cs:200,68);
\end{axis}
\begin{axis}[insax, name=i2, at={(380pt,85pt)}, ymin=68, ymax=71,
  ytick={69,70}, minor ytick={68.2,68.4,68.6,68.8,69.2,69.4,69.6,69.8,70.2,70.4,70.6,70.8}]
 \plotB
\end{axis}
\draw[conn] (t2) -- (i2.north west);
\draw[conn] (b2) -- (i2.south west);

% ===== panel 3 =====
\begin{axis}[mainax, at={(414.5pt,85pt)}, title={40\% noise}, yticklabels={}]
 \plotC
 \coordinate (t3) at (axis cs:200,63);
 \coordinate (b3) at (axis cs:200,60);
\end{axis}
\begin{axis}[insax, name=i3, at={(569.25pt,85pt)}, ymin=60, ymax=63,
  ytick={61,62}, minor ytick={60.2,60.4,60.6,60.8,61.2,61.4,61.6,61.8,62.2,62.4,62.6,62.8}]
 \plotC
\end{axis}
\draw[conn] (t3) -- (i3.north west);
\draw[conn] (b3) -- (i3.south west);

\pgfresetboundingbox
\useasboundingbox (0,0) rectangle (583.5pt,239pt);
\end{tikzpicture}
\end{document}
